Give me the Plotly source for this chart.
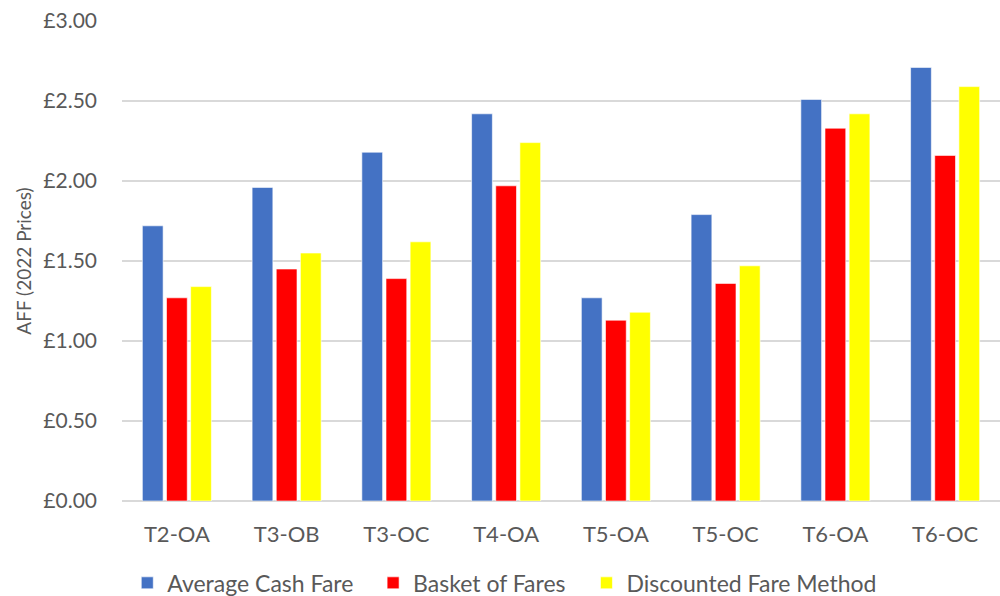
import plotly.graph_objects as go

categories = ["T2-OA", "T3-OB", "T3-OC", "T4-OA", "T5-OA", "T5-OC", "T6-OA", "T6-OC"]
average_cash_fare = [1.72, 1.96, 2.18, 2.42, 1.27, 1.79, 2.51, 2.71]
basket_of_fares = [1.27, 1.45, 1.39, 1.97, 1.13, 1.36, 2.33, 2.16]
discounted_fare_method = [1.34, 1.55, 1.62, 2.24, 1.18, 1.47, 2.42, 2.59]
y_ticks = [0, 0.5, 1.0, 1.5, 2.0, 2.5, 3.0]

FONT = "Lato"
TEXT = "#595959"

series = [
    ("Average Cash Fare", average_cash_fare, "#4472C4", "legend", 0.006),
    ("Basket of Fares", basket_of_fares, "#FF0000", "legend2", 0.286),
    ("Discounted Fare Method", discounted_fare_method, "#FFFF00", "legend3", 0.529),
]

fig = go.Figure()
for name, vals, color, leg, _ in series:
    fig.add_trace(go.Bar(
        x=categories, y=vals, name=name, legend=leg,
        marker=dict(color=color, line=dict(color="rgba(255,255,255,0.6)", width=1)),
    ))

legend_style = dict(
    orientation="h", xanchor="left", xref="paper",
    yref="container", y=0.022, yanchor="middle",
    font=dict(size=23, family=FONT, color=TEXT),
    itemwidth=30, bgcolor="rgba(0,0,0,0)",
)

fig.update_layout(
    width=1000, height=596,
    margin=dict(l=122, r=0, t=21, b=95, autoexpand=False),
    paper_bgcolor="white", plot_bgcolor="white",
    barmode="group", bargap=0.34, bargroupgap=0.14,
    font=dict(family=FONT, color=TEXT, size=20),
    showlegend=True,
    legend=dict(legend_style, x=series[0][4]),
    legend2=dict(legend_style, x=series[1][4]),
    legend3=dict(legend_style, x=series[2][4]),
    xaxis=dict(
        showgrid=False, showline=False, ticks="", automargin=False,
        ticklabelstandoff=18,
        tickfont=dict(size=22, family=FONT, color=TEXT),
    ),
    yaxis=dict(
        range=[0, 3.0], tickvals=y_ticks, automargin=False,
        ticktext=["£%.2f" % v for v in y_ticks],
        showgrid=True, gridcolor="#d9d9d9", gridwidth=1.5,
        zeroline=True, zerolinecolor="#d9d9d9", zerolinewidth=1.5,
        showline=False, ticks="", ticklabelstandoff=24,
        tickfont=dict(size=21, family=FONT, color=TEXT),
        title=dict(text="AFF (2022 Prices)", font=dict(size=19, family=FONT, color=TEXT), standoff=6),
    ),
)

fig.write_html("out.html")
